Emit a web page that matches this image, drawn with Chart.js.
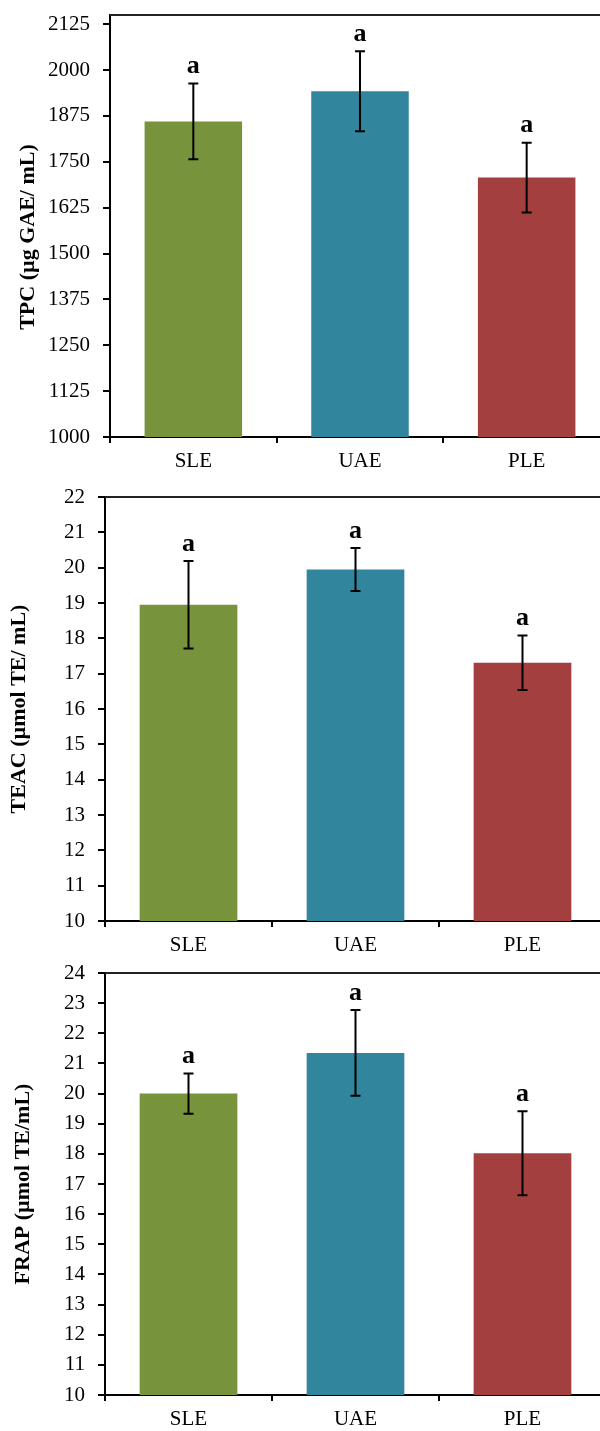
<!DOCTYPE html>
<html>
<head>
<meta charset="utf-8">
<script src="https://cdn.jsdelivr.net/npm/chart.js@4.4.1/dist/chart.umd.min.js"></script>
<style>
  html, body { margin: 0; padding: 0; background: #fff; overflow: hidden; }
  #wrap { position: relative; width: 600px; height: 1431px; overflow: hidden; }
  canvas { position: absolute; left: 0; }
</style>
</head>
<body>
<div id="wrap">
  <canvas id="tpcChart" width="620" height="480" style="top:0px"></canvas>
  <canvas id="teacChart" width="620" height="480" style="top:480px"></canvas>
  <canvas id="frapChart" width="620" height="476" style="top:955px"></canvas>
</div>
<script>
const categories = ["SLE", "UAE", "PLE"];
const barColors = ["#77933C", "#31859C", "#A43F3F"];

// TPC panel
const tpcMeans = [1860, 1942, 1707];
const tpcErrors = [103, 109, 95];
const tpcLetters = ["a", "a", "a"];
const tpcTicks = [1000, 1125, 1250, 1375, 1500, 1625, 1750, 1875, 2000, 2125];

// TEAC panel
const teacMeans = [18.95, 19.95, 17.31];
const teacErrors = [1.24, 0.61, 0.77];
const teacLetters = ["a", "a", "a"];
const teacTicks = [10, 11, 12, 13, 14, 15, 16, 17, 18, 19, 20, 21, 22];

// FRAP panel
const frapMeans = [20.0, 21.35, 18.02];
const frapErrors = [0.67, 1.42, 1.39];
const frapLetters = ["a", "a", "a"];
const frapTicks = [10, 11, 12, 13, 14, 15, 16, 17, 18, 19, 20, 21, 22, 23, 24];

const FONT = "'Liberation Serif', 'Times New Roman', serif";

// error bars, significance letters and the top frame line
const extrasPlugin = {
  id: "extras",
  afterDatasetsDraw(chart, args, opts) {
    const ctx = chart.ctx;
    const y = chart.scales.y;
    const area = chart.chartArea;
    const meta = chart.getDatasetMeta(0);

    ctx.save();
    ctx.strokeStyle = "#222";
    ctx.lineWidth = 2;
    ctx.beginPath();
    ctx.moveTo(area.left, area.top);
    ctx.lineTo(area.right, area.top);
    ctx.stroke();

    ctx.strokeStyle = "#000";
    ctx.lineWidth = 2;
    meta.data.forEach((bar, i) => {
      const m = opts.means[i];
      const e = opts.errors[i];
      const yTop = y.getPixelForValue(m + e);
      const yBot = y.getPixelForValue(m - e);
      ctx.beginPath();
      ctx.moveTo(bar.x, yTop);
      ctx.lineTo(bar.x, yBot);
      ctx.moveTo(bar.x - 5, yTop);
      ctx.lineTo(bar.x + 5, yTop);
      ctx.moveTo(bar.x - 5, yBot);
      ctx.lineTo(bar.x + 5, yBot);
      ctx.stroke();

      ctx.fillStyle = "#000";
      ctx.font = "bold 26px " + FONT;
      ctx.textAlign = "center";
      ctx.textBaseline = "middle";
      ctx.fillText(opts.letters[i], bar.x, yTop - 17);
    });
    ctx.restore();
  },
};

function makeChart(id, cfg) {
  const ctx = document.getElementById(id).getContext("2d");
  return new Chart(ctx, {
    type: "bar",
    data: {
      labels: categories,
      datasets: [
        {
          data: cfg.means,
          backgroundColor: barColors,
          borderWidth: 0,
          categoryPercentage: 1,
          barPercentage: 0.585,
        },
      ],
    },
    options: {
      responsive: false,
      maintainAspectRatio: false,
      animation: false,
      events: [],
      layout: { padding: cfg.padding },
      plugins: {
        legend: { display: false },
        tooltip: { enabled: false },
        extras: { means: cfg.means, errors: cfg.errors, letters: cfg.letters },
      },
      scales: {
        x: {
          grid: {
            display: true,
            drawOnChartArea: false,
            drawTicks: true,
            tickLength: 6,
            color: "#000",
            lineWidth: 2,
            offset: true,
          },
          border: { display: true, color: "#000", width: 2 },
          ticks: {
            color: "#000",
            font: { family: FONT, size: 21 },
            padding: 6,
          },
          afterFit: (scale) => { scale.height = 32; },
        },
        y: {
          min: cfg.min,
          max: cfg.max,
          grid: {
            display: true,
            drawOnChartArea: false,
            drawTicks: true,
            tickLength: 7,
            color: "#000",
            lineWidth: 2,
          },
          border: { display: true, color: "#000", width: 2 },
          ticks: {
            color: "#000",
            font: { family: FONT, size: 21 },
            padding: 13,
            callback: (v) => String(v),
          },
          afterBuildTicks: (axis) => {
            axis.ticks = cfg.ticks.map((v) => ({ value: v }));
          },
          title: {
            display: true,
            text: cfg.title,
            color: "#000",
            font: { family: FONT, size: 22, weight: "bold" },
            padding: { top: cfg.titlePad, bottom: 0 },
          },
          afterFit: (scale) => {
            scale.width = cfg.axisWidth;
            scale.paddingTop = 0;
            scale.paddingBottom = 0;
          },
        },
      },
    },
    plugins: [extrasPlugin],
  });
}

makeChart("tpcChart", {
  means: tpcMeans, errors: tpcErrors, letters: tpcLetters, ticks: tpcTicks,
  min: 1000, max: 2150,
  // trailing spaces nudge the title a bit lower, as in the original
  title: "TPC (µg GAE/ mL)\u00a0\u00a0\u00a0\u00a0", titlePad: 15, axisWidth: 110,
  padding: { top: 15, bottom: 11, left: 0, right: 10 },
});

makeChart("teacChart", {
  means: teacMeans, errors: teacErrors, letters: teacLetters, ticks: teacTicks,
  min: 10, max: 22,
  title: "TEAC (µmol TE/ mL)", titlePad: 6, axisWidth: 105,
  padding: { top: 17, bottom: 7, left: 0, right: 14 },
});

makeChart("frapChart", {
  means: frapMeans, errors: frapErrors, letters: frapLetters, ticks: frapTicks,
  min: 10, max: 24,
  title: "FRAP (µmol TE/mL)", titlePad: 10, axisWidth: 105,
  padding: { top: 18, bottom: 4, left: 0, right: 14 },
});
</script>
</body>
</html>
